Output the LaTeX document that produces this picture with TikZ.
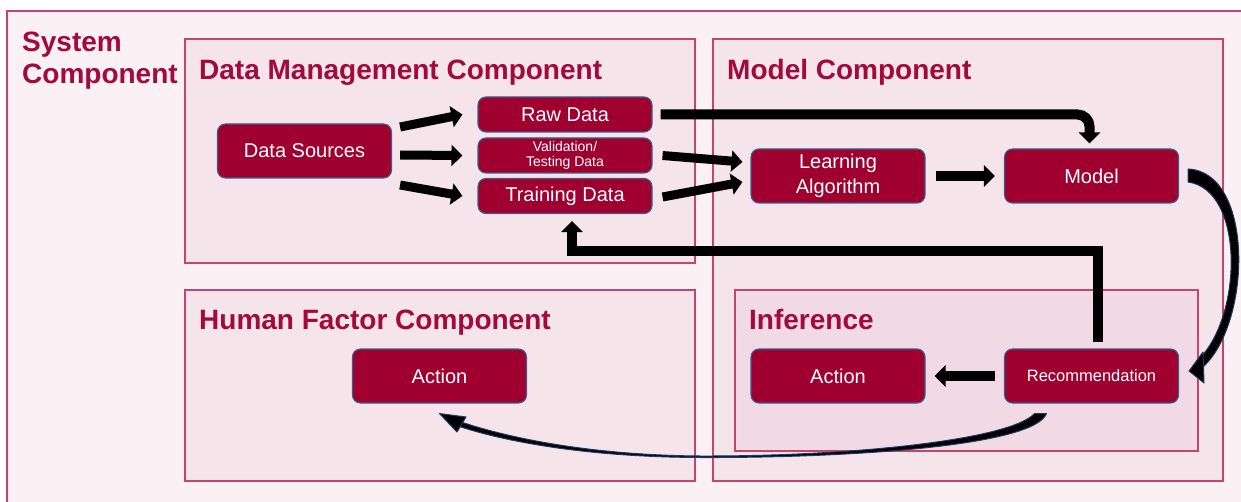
\documentclass[tikz,border=0pt]{standalone}
\usepackage{fontspec}
\setmainfont{Liberation Sans}
\usetikzlibrary{arrows.meta,calc}

\definecolor{sysfill}{RGB}{251,240,244}
\definecolor{compfill}{RGB}{245,228,234}
\definecolor{inffill}{RGB}{241,218,227}
\definecolor{boxline}{RGB}{195,69,108}
\definecolor{titlered}{RGB}{163,9,60}
\definecolor{nodered}{RGB}{160,0,48}
\definecolor{nodeline}{RGB}{58,95,138}
\definecolor{arrowline}{RGB}{31,56,100}

\tikzset{
  comp/.style={draw=boxline, line width=1.4pt, fill=compfill},
  ctitle/.style={text=titlered, font=\bfseries\fontsize{28}{33}\selectfont,
                 anchor=base west, inner sep=0},
  proc/.style={rounded corners=8pt, fill=nodered, draw=nodeline, line width=1.1pt,
               text=white, font=\fontsize{20}{25}\selectfont, align=center,
               minimum width=174pt, minimum height=54pt, inner sep=0},
  datanode/.style={proc, minimum height=35pt},
  blk/.style={line width=9pt, draw=black, line join=miter,
              -{Triangle[length=11pt,width=21pt]}},
  curvedarrow/.style={fill=black, draw=arrowline, line width=1pt, line join=round},
}

\begin{document}
\begin{tikzpicture}[x=1pt,y=-1pt]
  \useasboundingbox (0,0) rectangle (1241,502);
  \clip (0,0) rectangle (1241,502);
  \fill[white] (0,0) rectangle (1241,502);

  % system frame
  \draw[draw=boxline, line width=1.4pt, fill=sysfill] (7,11) rectangle (1260,520);
  \node[ctitle] (systitle) at (22,52) {System};
  \node[ctitle] (systitle2) at (22,84) {Component};

  % component frames
  \draw[comp] (185,39) rectangle (695,263);
  \draw[comp] (713,39) rectangle (1223,481);
  \draw[comp] (185,290) rectangle (695,481);
  \draw[draw=boxline, line width=1.4pt, fill=inffill] (735,290) rectangle (1198,451);

  \node[ctitle] (dmtitle) at (199,80) {Data Management Component};
  \node[ctitle] (mctitle) at (727,80) {Model Component};
  \node[ctitle] (hftitle) at (199,330) {Human Factor Component};
  \node[ctitle] (inftitle) at (749,330) {Inference};

  % processing nodes
  \node[proc] (ds) at (304.5,151) {Data Sources};
  \node[datanode] (raw) at (565,114.5) {Raw Data};
  \node[datanode, font=\fontsize{14}{15.5}\selectfont] (val) at (565,155.5) {Validation/\\Testing Data};
  \node[datanode] (tr) at (565,196) {Training Data};
  \node[proc] (la) at (838,176) {Learning\\Algorithm};
  \node[proc] (model) at (1091.5,176) {Model};
  \node[proc] (hact) at (439.5,376) {Action};
  \node[proc] (iact) at (838,376) {Action};
  \node[proc, font=\fontsize{16.5}{20}\selectfont] (rec) at (1091.5,376) {Recommendation};

  % straight block arrows
  \draw[blk] ($(ds.east)+(8,-24)$) -- ($(raw.west)+(-15,0)$);
  \draw[blk] ($(ds.east)+(8,4)$) -- ($(val.west)+(-15,0)$);
  \draw[blk] ($(ds.east)+(8,34)$) -- ($(tr.west)+(-15,0)$);
  \draw[blk] ($(val.east)+(10,0)$) -- ($(la.west)+(-8,-14)$);
  \draw[blk] ($(tr.east)+(10,1)$) -- ($(la.west)+(-8,6)$);
  \draw[blk, line width=10pt] ($(la.east)+(10,0)$) -- ($(model.west)+(-9,0)$);
  \draw[blk, line width=10pt] ($(rec.west)+(-9,0)$) -- ($(iact.east)+(9,0)$);
  \draw[blk, line width=10pt, rounded corners=12pt]
    ($(raw.east)+(8,0)$) -| ($(model.north)+(-2,-5)$);
  \draw[blk, line width=10pt]
    ($(rec.north)+(6,-6)$) |- ($(tr.south)+(7,37)$) -- ($(tr.south)+(7,7)$);

  % curved arrow from Model round to Recommendation
  \filldraw[curvedarrow]
    ($(model.east)+(9,-7)$) .. controls (1254,172) and (1252,322) .. (1203,367)
    -- (1197,361) .. controls (1243,318) and (1245,190) .. ($(model.east)+(9,6)$) -- cycle;
  \filldraw[curvedarrow] ($(rec.east)+(10,-5)$) -- (1203,352) -- (1204,383) -- cycle;

  % curved arrow from Recommendation to the human action
  \filldraw[curvedarrow]
    ($(rec.south)+(-45,10)$) .. controls (1034,446) and (850,458) .. (700,457.5)
    .. controls (580,457) and (500,440) .. (458,426)
    -- (461,422) .. controls (500,435) and (580,455) .. (700,456)
    .. controls (850,456.5) and (1010,440) .. ($(rec.south)+(-57,10)$) -- cycle;
  \filldraw[curvedarrow] ($(hact.south)+(0,10)$) -- (466,417) -- (457,432) -- cycle;
\end{tikzpicture}
\end{document}
